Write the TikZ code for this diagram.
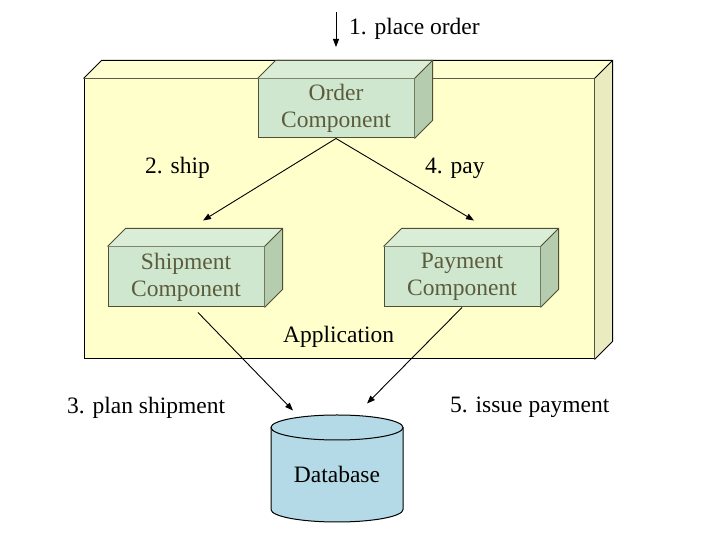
\documentclass[tikz,border=0pt]{standalone}
\usepackage{fontspec}
\setmainfont{Liberation Serif}
\usetikzlibrary{arrows.meta,calc}
\definecolor{appfront}{HTML}{FFFFCC}
\definecolor{apptop}{HTML}{FFFFD2}
\definecolor{appside}{HTML}{EBEBC0}
\definecolor{compfront}{HTML}{CFE7CF}
\definecolor{comptop}{HTML}{DAEDD6}
\definecolor{compside}{HTML}{B5CCAE}
\definecolor{compline}{HTML}{4F4F33}
\definecolor{comptext}{HTML}{5C5C3D}
\definecolor{dbfill}{HTML}{B3DAE6}
\tikzset{
  x=1pt, y=1pt,
  txt/.style={font=\fontsize{23.5}{27}\selectfont, inner sep=0pt},
  appbox/.style={draw=black, line width=1pt, fill=appfront, minimum width=510pt, minimum height=280pt, inner sep=0pt},
  compbox/.style={draw=compline, line width=1pt, fill=compfront, minimum width=156pt, minimum height=60pt, inner sep=0pt, align=center, text=comptext, font=\fontsize{23.5}{27}\selectfont},
  flow/.style={draw=black, line width=0.9pt, -{Triangle[length=8pt,width=6pt]}},
}
\newcommand{\boxfaces}[5]{%
  \fill[#2] (#1.north west) -- ++(18,18) -- ($(#1.north east)+(18,18)$) -- (#1.north east) -- cycle;
  \fill[#3] (#1.north east) -- ++(18,18) -- ($(#1.south east)+(18,18)$) -- (#1.south east) -- cycle;
  \draw[#4, line width=1pt, line join=miter] (#1.north west) -- ++(18,18) -- ($(#1.north east)+(18,18)$) -- ($(#1.south east)+(18,18)$) -- (#1.south east)
     (#1.north east) -- ++(18,18);
}
\begin{document}
\begin{tikzpicture}
\useasboundingbox (0,0) rectangle (720,540);
% application
\node[appbox] (app) at (339,321) {};
\boxfaces{app}{apptop}{appside}{black}{}
% components
\node[compbox, minimum height=59pt] (order) at (336,431.5) {Order\\Component};
\boxfaces{order}{comptop}{compside}{compline}{}
\node[compbox] (ship) at (186,263) {Shipment\\Component};
\boxfaces{ship}{comptop}{compside}{compline}{}
\node[compbox] (pay) at (462,263) {Payment\\Component};
\boxfaces{pay}{comptop}{compside}{compline}{}
% database
\fill[dbfill] (271,112.5) -- (271,30.5) arc[start angle=180, end angle=360, x radius=66, y radius=12.5] -- (403,112.5) arc[start angle=0, end angle=180, x radius=66, y radius=12.5] -- cycle;
\draw[line width=1pt, fill=dbfill] (337,112.5) ellipse[x radius=66, y radius=12.5];
\draw[line width=1pt] (271,112.5) -- (271,30.5) arc[start angle=180, end angle=360, x radius=66, y radius=12.5] -- (403,112.5);
\node[txt] (db) at (337,66) {Database};
% labels
\node[txt, anchor=base west] (l1) at (349,505) {1. place order};
\node[txt, anchor=base west] (l2) at (145,366) {2. ship};
\node[txt, anchor=base west] (l4) at (425,366) {4. pay};
\node[txt, anchor=base west] (lapp) at (283,197) {Application};
\node[txt, anchor=base west] (l3) at (67,126) {3. plan shipment};
\node[txt, anchor=base west] (l5) at (450,127) {5. issue payment};
% connectors
\coordinate (c1a) at (336,528);
\coordinate (c1b) at (336,493);
\draw[flow] (c1a) -- (c1b);
\draw[flow] (order.south) -- ($(ship.north)+(17,26)$);
\draw[flow] (order.south) -- ($(pay.north)+(12,26)$);
\draw[flow] ($(ship.south)+(12,-5)$) -- ($(db.north)+(-44,55)$);
\draw[flow] (pay.south) -- ($(db.north)+(30,62)$);
\end{tikzpicture}
\end{document}
